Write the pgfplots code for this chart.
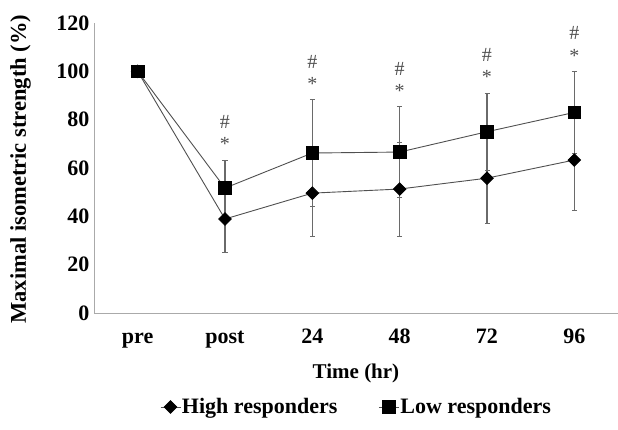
\documentclass[border=0pt]{standalone}
\usepackage{fontspec}
\setmainfont{Liberation Serif}
\usepackage{pgfplots}
\pgfplotsset{compat=1.18}
\definecolor{linec}{HTML}{505050}
\definecolor{errc}{HTML}{6A6A6A}
\definecolor{axc}{HTML}{AAAAAA}
\begin{document}
\begin{tikzpicture}[x=1pt,y=1pt]
\useasboundingbox (-94,-116) rectangle (524,313);
\begin{axis}[
  at={(0,0)}, anchor=south west,
  scale only axis, width=524pt, height=290pt,
  xmin=-0.5, xmax=5.5, ymin=0, ymax=120,
  axis x line*=bottom, axis y line*=left,
  xtick={0,...,5}, xticklabels={pre,post,24,48,72,96},
  ytick={0,20,...,120},
  major tick length=0pt,
  axis line style={draw=axc, line width=0.9pt},
  /pgf/number format/assume math mode=true,
  tick label style={font=\fontsize{22}{24}\selectfont\bfseries},
  xticklabel style={anchor=base, yshift=-30pt},
  yticklabel style={xshift=-1pt},
  xlabel={Time (hr)},
  ylabel={Maximal isometric strength (\%)},
  label style={font=\fontsize{21}{24}\selectfont\bfseries},
  xlabel style={at={(axis description cs:0.5,-0.207)}, anchor=center},
  ylabel style={at={(axis description cs:-0.14,0.496)}, anchor=center, rotate=0, font=\fontsize{22.5}{24}\selectfont\bfseries},
  legend columns=2,
  legend style={at={(axis description cs:0.5,-0.324)}, anchor=center, draw=none,
    font=\fontsize{22}{24}\selectfont\bfseries,
    nodes={inner sep=1pt},
    /tikz/every even column/.append style={column sep=40pt}},
  legend image code/.code={\draw[mark repeat=2,mark phase=2,#1] plot coordinates {(0pt,0pt)(10pt,0pt)(20pt,0pt)};},
  clip=false,
]
\addplot[color=linec, line width=0.9pt, mark=square*, mark size=4.4pt,
  mark options={fill=black, draw=black, solid, rotate=45},
  error bars/.cd, y dir=both, y explicit,
  error bar style={color=errc, line width=1.1pt},
  error mark options={rotate=90, mark size=2.5pt, color=errc, line width=0.8pt}]
  coordinates {
  (0,100) +- (0,0)
  (1,38.9) +- (0,13.7)
  (2,49.6) +- (0,18.0)
  (3,51.3) +- (0,19.4)
  (4,55.8) +- (0,18.6)
  (5,63.3) +- (0,20.7)
  };
\addlegendentry{High responders}
\addplot[color=linec, line width=0.9pt, mark=square*, mark size=6.3pt,
  mark options={fill=black, draw=black, solid},
  error bars/.cd, y dir=both, y explicit,
  error bar style={color=errc, line width=1.1pt},
  error mark options={rotate=90, mark size=2.5pt, color=errc, line width=0.8pt}]
  coordinates {
  (0,100) +- (0,0)
  (1,51.7) +- (0,11.6)
  (2,66.2) +- (0,22.0)
  (3,66.6) +- (0,18.7)
  (4,75.0) +- (0,16.0)
  (5,83.0) +- (0,17.0)
  };
\addlegendentry{Low responders}
\node[font=\fontsize{20}{22}\selectfont, text=linec] at (axis cs:1,69.8) {*};
\node[font=\fontsize{20}{22}\selectfont, text=linec] at (axis cs:1,79.0) {\#};
\node[font=\fontsize{20}{22}\selectfont, text=linec] at (axis cs:2,94.7) {*};
\node[font=\fontsize{20}{22}\selectfont, text=linec] at (axis cs:2,103.9) {\#};
\node[font=\fontsize{20}{22}\selectfont, text=linec] at (axis cs:3,91.8) {*};
\node[font=\fontsize{20}{22}\selectfont, text=linec] at (axis cs:3,101.0) {\#};
\node[font=\fontsize{20}{22}\selectfont, text=linec] at (axis cs:4,97.5) {*};
\node[font=\fontsize{20}{22}\selectfont, text=linec] at (axis cs:4,106.7) {\#};
\node[font=\fontsize{20}{22}\selectfont, text=linec] at (axis cs:5,106.5) {*};
\node[font=\fontsize{20}{22}\selectfont, text=linec] at (axis cs:5,115.7) {\#};
\end{axis}
\end{tikzpicture}
\end{document}
